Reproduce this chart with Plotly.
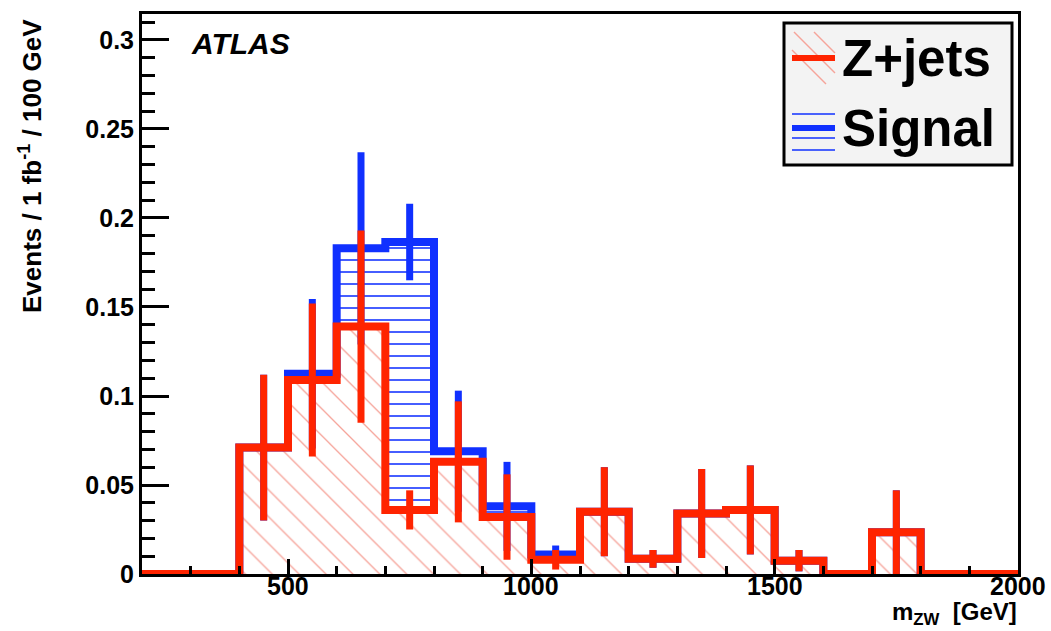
import plotly.graph_objects as go

# ---- data ----
bin_edges = list(range(200, 2001, 100))
zjets     = [0, 0, 0.071, 0.109, 0.139, 0.036, 0.063, 0.032, 0.008, 0.035, 0.0085, 0.034, 0.036, 0.0075, 0, 0.0235, 0, 0]
zjets_err = [0, 0, 0.041, 0.043, 0.054, 0.011, 0.034, 0.024, 0.0055, 0.025, 0.005, 0.025, 0.025, 0.006, 0, 0.0235, 0, 0]
signal    = [0, 0, 0, 0.0035, 0.044, 0.1505, 0.006, 0.006, 0.003, 0, 0, 0, 0, 0, 0, 0, 0, 0]
total_err = [0, 0, 0.041, 0.042, 0.054, 0.0215, 0.034, 0.025, 0.005, 0.025, 0.005, 0.025, 0.025, 0.006, 0, 0.0235, 0, 0]

x_tickvals = [500, 1000, 1500, 2000]
x_ticktext = ["500", "1000", "1500", "2000"]
y_tickvals = [0, 0.05, 0.1, 0.15, 0.2, 0.25, 0.3]
y_ticktext = ["0", "0.05", "0.1", "0.15", "0.2", "0.25", "0.3"]

RED = "#ff2400"
BLUE = "#1030ff"
HATCH_RED = "#f6a49a"
FONT = "Liberation Sans, Arial, Helvetica, sans-serif"

centers = [(a + b) / 2 for a, b in zip(bin_edges[:-1], bin_edges[1:])]
total = [z + s for z, s in zip(zjets, signal)]

fig = go.Figure()

# filled areas
fig.add_trace(go.Bar(x=centers, y=total, width=100, showlegend=False, hoverinfo="skip",
                     marker=dict(color="white", line_width=0,
                                 pattern=dict(shape="-", fgcolor=BLUE, bgcolor="white",
                                              size=12, solidity=0.13, fillmode="replace"))))
fig.add_trace(go.Bar(x=centers, y=zjets, width=100, showlegend=False, hoverinfo="skip",
                     marker=dict(color="white", line_width=0,
                                 pattern=dict(shape="\\", fgcolor=HATCH_RED, bgcolor="white",
                                              size=19, solidity=0.07, fillmode="replace"))))

# total (signal stack) outline + errors
fig.add_trace(go.Scatter(x=bin_edges, y=total + [total[-1]], mode="lines", line_shape="hv",
                         line=dict(color=BLUE, width=8), showlegend=False, hoverinfo="skip"))
fig.add_trace(go.Scatter(x=centers, y=total, mode="markers", marker=dict(size=1, color=BLUE),
                         error_y=dict(type="data", array=total_err, color=BLUE, thickness=7, width=0),
                         showlegend=False, hoverinfo="skip"))
# Z+jets outline + errors
fig.add_trace(go.Scatter(x=bin_edges, y=zjets + [zjets[-1]], mode="lines", line_shape="hv",
                         line=dict(color=RED, width=8), showlegend=False, hoverinfo="skip"))
fig.add_trace(go.Scatter(x=centers, y=zjets, mode="markers", marker=dict(size=1, color=RED),
                         error_y=dict(type="data", array=zjets_err, color=RED, thickness=7, width=0),
                         showlegend=False, hoverinfo="skip"))

W, H = 1051, 631
L, R, T, B = 142, 1018, 14, 574


def px(x):
    return (x - L) / (R - L)


def py(y):
    return (B - y) / (B - T)


tickfont = dict(family=FONT, size=25, color="black", weight="bold")

fig.update_layout(
    width=W, height=H, margin=dict(l=L, r=W - R, t=T, b=H - B),
    paper_bgcolor="white", plot_bgcolor="white", barmode="overlay", bargap=0,
    showlegend=False,
    xaxis=dict(range=[200, 2000], automargin=False, showgrid=False, zeroline=False, showline=True,
               linecolor="black", linewidth=3, mirror=True, ticks="inside", ticklen=15, tickwidth=2.5,
               tickcolor="black", tickmode="array", tickvals=x_tickvals, showticklabels=False,
               minor=dict(ticks="inside", ticklen=8, tickwidth=2.5, tickcolor="black",
                          tickmode="linear", tick0=0, dtick=100, showgrid=False)),
    yaxis=dict(range=[0, 0.3146], automargin=False, showgrid=False, zeroline=False, showline=True,
               linecolor="black", linewidth=3, mirror=True, ticks="inside", ticklen=27, tickwidth=2.5,
               tickcolor="black", tickmode="array", tickvals=y_tickvals,
               ticktext=y_ticktext, tickfont=tickfont,
               minor=dict(ticks="inside", ticklen=13, tickwidth=2.5, tickcolor="black",
                          tickmode="linear", tick0=0, dtick=0.01, showgrid=False)),
)

annotations = [
    dict(text=t, x=v, y=py(570), xref="x", yref="paper", xanchor="center", yanchor="top",
         showarrow=False, font=tickfont)
    for v, t in zip(x_tickvals, x_ticktext)
]
annotations += [
    dict(text="ATLAS", x=px(189), y=py(43), xref="paper", yref="paper", xanchor="left", yanchor="middle",
         showarrow=False, font=dict(family=FONT, size=30, color="black", weight="bold", style="italic")),
    dict(text="Events / 1 fb<sup>-1</sup> / 100 GeV", x=px(30), y=py(166), xref="paper", yref="paper",
         xanchor="center", yanchor="middle", textangle=-90, showarrow=False,
         font=dict(family=FONT, size=26, color="black", weight="bold")),
    dict(text="m<sub>ZW</sub>  [GeV]", x=px(1019), y=py(631), xref="paper", yref="paper",
         xanchor="right", yanchor="bottom", showarrow=False,
         font=dict(family=FONT, size=24, color="black", weight="bold")),
    dict(text="Z+jets", x=px(840), y=py(58), xref="paper", yref="paper", xanchor="left", yanchor="middle",
         showarrow=False, font=dict(family=FONT, size=51, color="black", weight="bold")),
    dict(text="Signal", x=px(840), y=py(128), xref="paper", yref="paper", xanchor="left", yanchor="middle",
         showarrow=False, font=dict(family=FONT, size=51, color="black", weight="bold")),
]

shapes = [
    dict(type="rect", xref="paper", yref="paper", x0=px(784), x1=px(1012), y0=py(165), y1=py(23),
         fillcolor="#f3f3f3", line=dict(color="black", width=3), layer="above"),
]
# legend symbol for Z+jets: diagonal hatch + thick red line
sx0, sx1, sy0, sy1 = 792, 835, 32, 84
for c in (-22, -2, 18):
    # line y - sy0 = (x - sx0) + c, clipped to the symbol box
    xa = max(sx0, sx0 - c)
    xb = min(sx1, sx0 + (sy1 - sy0) - c)
    if xb > xa:
        shapes.append(dict(type="line", xref="paper", yref="paper",
                           x0=px(xa), y0=py(sy0 + (xa - sx0) + c), x1=px(xb), y1=py(sy0 + (xb - sx0) + c),
                           line=dict(color=HATCH_RED, width=1.5), layer="above"))
shapes.append(dict(type="line", xref="paper", yref="paper", x0=px(792), x1=px(835), y0=py(58), y1=py(58),
                   line=dict(color=RED, width=6), layer="above"))
# legend symbol for Signal: horizontal hatch + thick blue line
for yy in (114, 138, 150):
    shapes.append(dict(type="line", xref="paper", yref="paper", x0=px(792), x1=px(835), y0=py(yy), y1=py(yy),
                       line=dict(color=BLUE, width=1.5), layer="above"))
shapes.append(dict(type="line", xref="paper", yref="paper", x0=px(792), x1=px(835), y0=py(128), y1=py(128),
                   line=dict(color=BLUE, width=6), layer="above"))

fig.update_layout(annotations=annotations, shapes=shapes)
fig.write_html("out.html")
